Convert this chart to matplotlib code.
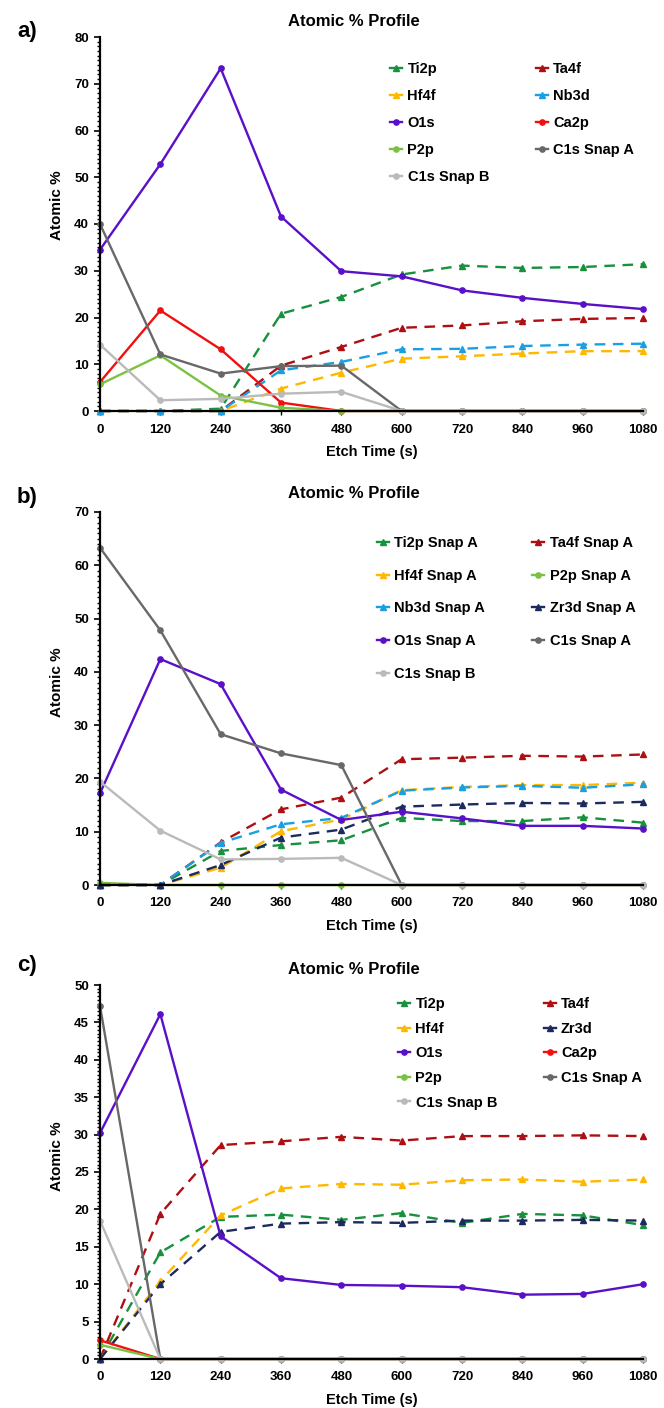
import matplotlib
matplotlib.use("Agg")
import matplotlib.pyplot as plt
from matplotlib.ticker import MultipleLocator
from matplotlib.lines import Line2D

plt.rcParams['font.family'] = ['Liberation Sans', 'DejaVu Sans']
plt.rcParams['font.weight'] = 'bold'

W, H = 664, 1408

etch_time = [0, 120, 240, 360, 480, 600, 720, 840, 960, 1080]

# panel a
a_names = ['Ti2p', 'Ta4f', 'Hf4f', 'Nb3d', 'O1s', 'Ca2p', 'P2p', 'C1s Snap A', 'C1s Snap B']
a_ti2p = [0, 0, 0.5, 20.8, 24.4, 29.2, 31.1, 30.6, 30.8, 31.4]
a_ta4f = [0, 0, 0, 9.7, 13.7, 17.8, 18.3, 19.2, 19.7, 19.9]
a_hf4f = [0, 0, 0, 4.8, 8.2, 11.2, 11.7, 12.3, 12.8, 12.8]
a_nb3d = [0, 0, 0, 8.7, 10.5, 13.2, 13.3, 13.9, 14.2, 14.4]
a_o1s = [34.5, 52.8, 73.3, 41.6, 29.9, 28.8, 25.8, 24.2, 22.9, 21.8]
a_ca2p = [6.2, 21.5, 13.2, 1.8, 0, 0, 0, 0, 0, 0]
a_p2p = [5.7, 11.9, 3.3, 0.7, 0, 0, 0, 0, 0, 0]
a_c1s_a = [40.0, 12.1, 8.0, 9.6, 9.7, 0, 0, 0, 0, 0]
a_c1s_b = [14.2, 2.3, 2.6, 3.7, 4.1, 0, 0, 0, 0, 0]

# panel b
b_names = ['Ti2p Snap A', 'Ta4f Snap A', 'Hf4f Snap A', 'P2p Snap A', 'Nb3d Snap A',
           'Zr3d Snap A', 'O1s Snap A', 'C1s Snap A', 'C1s Snap B']
b_ti2p = [0, 0, 6.4, 7.5, 8.4, 12.6, 12.0, 12.0, 12.7, 11.7]
b_ta4f = [0, 0, 8.0, 14.2, 16.4, 23.6, 23.9, 24.25, 24.1, 24.5]
b_hf4f = [0, 0, 3.25, 10.1, 12.3, 17.8, 18.4, 18.75, 18.75, 19.2]
b_p2p = [0.4, 0, 0, 0, 0, 0, 0, 0, 0, 0]
b_nb3d = [0, 0, 7.9, 11.4, 12.6, 17.7, 18.3, 18.6, 18.25, 18.9]
b_zr3d = [0, 0, 3.75, 8.9, 10.4, 14.7, 15.1, 15.4, 15.3, 15.6]
b_o1s = [17.2, 42.4, 37.7, 17.9, 12.2, 13.75, 12.5, 11.1, 11.1, 10.6]
b_c1s_a = [63.3, 47.8, 28.3, 24.7, 22.5, 0, 0, 0, 0, 0]
b_c1s_b = [19.4, 10.2, 4.8, 4.9, 5.1, 0, 0, 0, 0, 0]

# panel c
c_names = ['Ti2p', 'Ta4f', 'Hf4f', 'Zr3d', 'O1s', 'Ca2p', 'P2p', 'C1s Snap A', 'C1s Snap B']
c_ti2p = [0, 14.25, 19.0, 19.3, 18.6, 19.5, 18.2, 19.4, 19.2, 17.9]
c_ta4f = [0, 19.4, 28.6, 29.1, 29.7, 29.2, 29.8, 29.8, 29.9, 29.8]
c_hf4f = [0, 10.4, 19.2, 22.8, 23.4, 23.3, 23.9, 24.0, 23.7, 24.0]
c_zr3d = [0, 10.0, 17.0, 18.1, 18.3, 18.2, 18.5, 18.5, 18.6, 18.5]
c_o1s = [30.2, 46.1, 16.4, 10.8, 9.9, 9.8, 9.6, 8.6, 8.7, 10.0]
c_ca2p = [2.5, 0, 0, 0, 0, 0, 0, 0, 0, 0]
c_p2p = [1.9, 0, 0, 0, 0, 0, 0, 0, 0, 0]
c_c1s_a = [47.2, 0, 0, 0, 0, 0, 0, 0, 0, 0]
c_c1s_b = [18.5, 0, 0, 0, 0, 0, 0, 0, 0, 0]

colors = {
    'Ti2p': '#17913d', 'Ta4f': '#ad0f12', 'Hf4f': '#ffb800', 'Nb3d': '#1a9fe3',
    'Zr3d': '#1c2a5e', 'O1s': '#5a0fc8', 'Ca2p': '#f01010', 'P2p': '#7cc242',
    'C1s Snap A': '#686868', 'C1s Snap B': '#bababa',
}
dashed = ['Ti2p', 'Ta4f', 'Hf4f', 'Nb3d', 'Zr3d']


def fx(px):
    return px / W


def fy(py):
    return 1 - py / H


def style_of(name):
    key = name.replace(' Snap A', '') if not name.startswith('C1s') else name
    c = colors[key]
    if key in dashed:
        return dict(color=c, ls=(0, (4.5, 3.2)), marker='^', ms=4.2)
    return dict(color=c, ls='-', marker='o', ms=3.8)


fig = plt.figure(figsize=(W / 100, H / 100), dpi=100)

panels = [
    ('a)', a_names, [a_ti2p, a_ta4f, a_hf4f, a_nb3d, a_o1s, a_ca2p, a_p2p, a_c1s_a, a_c1s_b],
     (37, 411), 80, 10, 1, 21, 32, 205, (390, 62), 0.9),
    ('b)', b_names, [b_ti2p, b_ta4f, b_hf4f, b_p2p, b_nb3d, b_zr3d, b_o1s, b_c1s_a, b_c1s_b],
     (512, 885), 70, 10, 1, 494, 497, 682, (377, 536), 1.28),
    ('c)', c_names, [c_ti2p, c_ta4f, c_hf4f, c_zr3d, c_o1s, c_ca2p, c_p2p, c_c1s_a, c_c1s_b],
     (985, 1359), 50, 5, 0.5, 969, 966, 1156, (398, 997), 0.73),
]

for (lab, names, series, (top, bot), ymax, major, minor, ty, ly, yly, (lgx, lgy), lsp) in panels:
    ax = fig.add_axes([fx(100), fy(bot), fx(643) - fx(100), (bot - top) / H])
    handles = []
    for i, (name, vals) in enumerate(zip(names, series)):
        st = style_of(name)
        ax.plot(etch_time, vals, color=st['color'], ls=st['ls'], lw=1.7,
                marker=st['marker'], ms=st['ms'], mec=st['color'], mfc=st['color'],
                zorder=3 + i * 0.1, clip_on=False)
        handles.append(Line2D([0], [0], color=st['color'], ls='-', lw=1.7,
                              marker=st['marker'], ms=st['ms']))
    ax.set_xlim(0, 1080)
    ax.set_ylim(0, ymax)
    ax.set_xticks(etch_time)
    ax.set_yticks(range(0, ymax + 1, major))
    ax.yaxis.set_minor_locator(MultipleLocator(minor))
    for s in ['top', 'right']:
        ax.spines[s].set_visible(False)
    for s in ['left', 'bottom']:
        ax.spines[s].set_linewidth(1.6)
        ax.spines[s].set_zorder(5)
    ax.tick_params(axis='y', which='major', length=4, width=1.2, labelsize=9.5, pad=4)
    ax.tick_params(axis='y', which='minor', length=2.5, width=1.0)
    ax.tick_params(axis='x', which='major', length=3, width=1.0, labelsize=9.5, pad=6)
    for t in ax.get_xticklabels() + ax.get_yticklabels():
        t.set_fontweight('bold')
    ax.set_xlabel('Etch Time (s)', fontsize=10.5, fontweight='bold', labelpad=7)

    fig.text(fx(354), fy(ty), 'Atomic % Profile', ha='center', va='center',
             fontsize=12, fontweight='bold')
    fig.text(fx(27), fy(ly), lab, ha='center', va='center', fontsize=16, fontweight='bold')
    fig.text(fx(57), fy(yly), 'Atomic %', ha='center', va='center', rotation=90,
             fontsize=11, fontweight='bold')

    order = [0, 2, 4, 6, 8, 1, 3, 5, 7]
    fig.legend([handles[k] for k in order], [names[k] for k in order],
               loc='upper left', bbox_to_anchor=(fx(lgx), fy(lgy)), ncol=2,
               frameon=False, handlelength=0.85, handletextpad=0.35,
               labelspacing=lsp, columnspacing=3.2, borderpad=0, borderaxespad=0,
               prop={'weight': 'bold', 'size': 10.5})

fig.savefig('out.png', dpi=100)
